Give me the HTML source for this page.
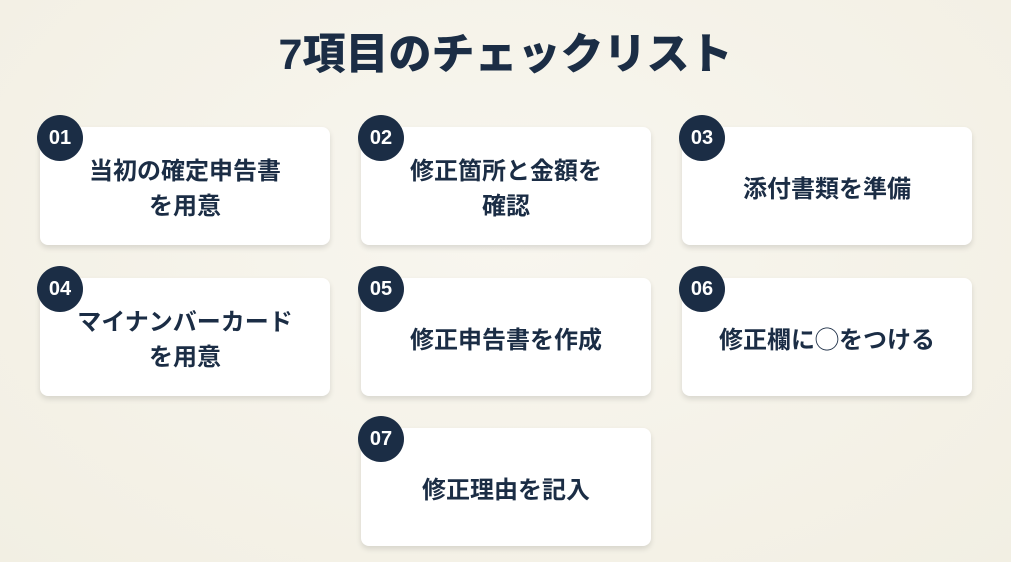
<!DOCTYPE html>
<html><head><meta charset="utf-8"><style>
body{margin:0;width:1011px;height:562px;overflow:hidden;background:radial-gradient(ellipse at 50% 40%,#f8f6ef,#f2efe3);font-family:"Liberation Sans","Noto Sans CJK JP",sans-serif;color:#1b2d45;position:relative}
h1{position:absolute;top:27px;left:0;width:1011px;text-align:center;margin:0;font-size:43px;font-weight:900;line-height:56px}
.c{position:absolute;width:290px;height:118px;background:#fff;border-radius:8px;box-shadow:0 3px 6px rgba(0,0,0,.12);display:flex;align-items:center;justify-content:center;text-align:center;font-size:24px;font-weight:bold;line-height:35px;padding-top:6px;box-sizing:border-box}
.n{position:absolute;width:46px;height:46px;border-radius:50%;background:#1b2d45;color:#fff;font-size:20px;font-weight:bold;display:flex;align-items:center;justify-content:center}
</style></head><body>
<h1>7項目のチェックリスト</h1>
<div class="c" style="left:40px;top:127px">当初の確定申告書<br>を用意</div>
<div class="c" style="left:361px;top:127px">修正箇所と金額を<br>確認</div>
<div class="c" style="left:682px;top:127px">添付書類を準備</div>
<div class="c" style="left:40px;top:278px">マイナンバーカード<br>を用意</div>
<div class="c" style="left:361px;top:278px">修正申告書を作成</div>
<div class="c" style="left:682px;top:278px">修正欄に◯をつける</div>
<div class="c" style="left:361px;top:428px">修正理由を記入</div>
<div class="n" style="left:37px;top:115px">01</div>
<div class="n" style="left:358px;top:115px">02</div>
<div class="n" style="left:679px;top:115px">03</div>
<div class="n" style="left:37px;top:266px">04</div>
<div class="n" style="left:358px;top:266px">05</div>
<div class="n" style="left:679px;top:266px">06</div>
<div class="n" style="left:358px;top:416px">07</div>
</body></html>
